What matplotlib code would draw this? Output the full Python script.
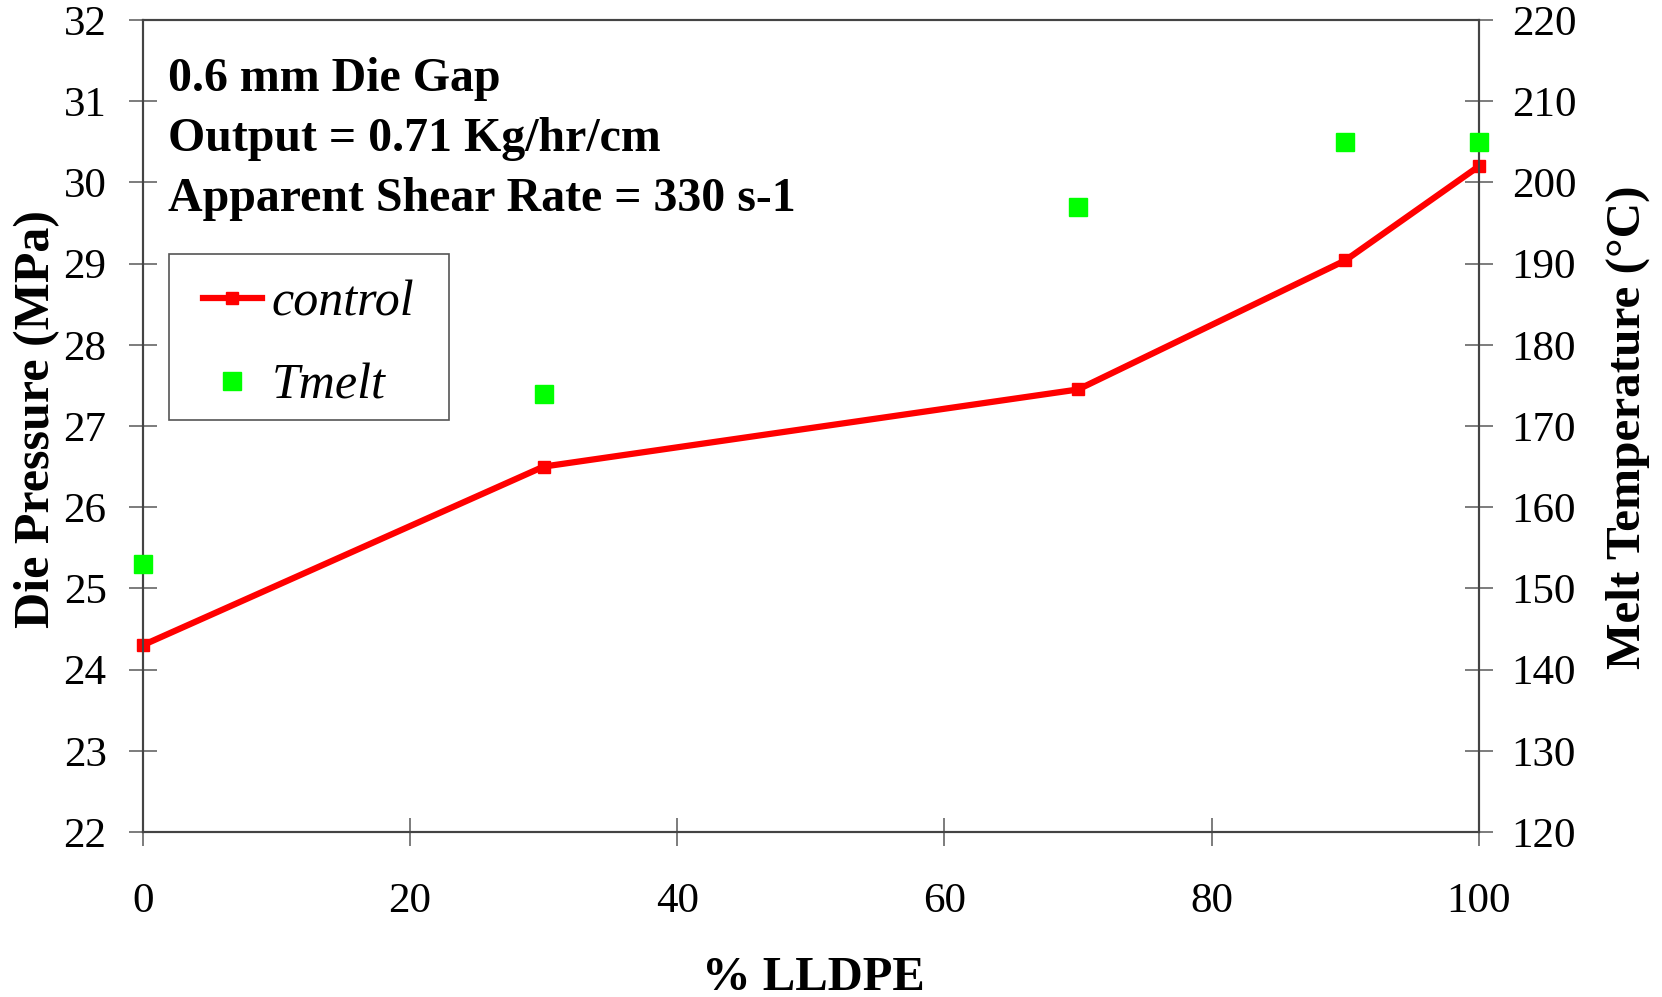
import matplotlib
matplotlib.use("Agg")
import matplotlib.pyplot as plt
from matplotlib.lines import Line2D
from matplotlib.patches import Rectangle

# data
lldpe = [0, 30, 70, 90, 100]
die_pressure = [24.3, 26.5, 27.45, 29.04, 30.2]   # MPa, "control"
t_melt = [153, 174, 197, 205, 205]                # deg C, "Tmelt"

x_ticks = [0, 20, 40, 60, 80, 100]
left_ticks = [22, 23, 24, 25, 26, 27, 28, 29, 30, 31, 32]
right_ticks = [120, 130, 140, 150, 160, 170, 180, 190, 200, 210, 220]

notes = ["0.6 mm Die Gap", "Output = 0.71 Kg/hr/cm", "Apparent Shear Rate = 330 s-1"]

plt.rcParams['font.family'] = ['Liberation Serif', 'DejaVu Serif']

W, H = 1662, 997
fig = plt.figure(figsize=(W / 100, H / 100), dpi=100)

def fx(px):
    return px / W

def fy(py):
    return 1 - py / H

left, right, top, bottom = 142.7, 1479, 20, 832
ax = fig.add_axes([fx(left), fy(bottom), fx(right - left), (bottom - top) / H])
ax2 = ax.twinx()

spine_col = '#444444'
tick_col = '#666666'

ax.plot(lldpe, die_pressure, color='#ff0000', lw=4.5, marker='s', ms=8.5,
        solid_joinstyle='miter', clip_on=False, zorder=3)
ax2.plot(lldpe, t_melt, linestyle='none', marker='s', ms=13.5, color='#00ff00',
         mec='#00ff00', clip_on=False, zorder=3)

ax.set_xlim(0, 100)
ax.set_ylim(22, 32)
ax2.set_ylim(120, 220)
ax.set_xticks(x_ticks)
ax.set_yticks(left_ticks)
ax2.set_yticks(right_ticks)

for a in (ax, ax2):
    for s in a.spines.values():
        s.set_color(spine_col)
        s.set_linewidth(1.5)

ax.tick_params(axis='x', direction='inout', length=20, width=1.2, color=tick_col,
               labelsize=31, pad=26)
ax.tick_params(axis='y', direction='inout', length=20, width=1.2, color=tick_col,
               labelsize=31, pad=16)
ax2.tick_params(axis='y', direction='inout', length=20, width=1.2, color=tick_col,
                labelsize=31, pad=13.5)

# axis titles
fig.text(fx(37), fy(419), "Die Pressure (MPa)", rotation=90, ha='center', va='center',
         fontsize=36, fontweight='bold')
fig.text(fx(1628), fy(427), "Melt Temperature (\u00b0C)", rotation=90, ha='center',
         va='center', fontsize=35.5, fontweight='bold')
fig.text(fx(813), fy(990), "% LLDPE", ha='center', va='baseline', fontsize=35,
         fontweight='bold')

# condition notes
for i, line in enumerate(notes):
    fig.text(fx(168), fy(90.7 + 60.2 * i), line, ha='left', va='baseline',
             fontsize=34.5, fontweight='bold')

# legend with a plain square frame
handles = [
    Line2D([], [], color='#ff0000', lw=4.5, marker='s', ms=8.5),
    Line2D([], [], linestyle='none', marker='s', ms=13.5, color='#00ff00'),
]
leg = fig.legend(handles, ['control', 'Tmelt'], loc='center',
                 bbox_to_anchor=(fx(308.5), fy(344.5)), frameon=False,
                 prop={'family': 'Liberation Serif', 'style': 'italic', 'size': 36},
                 handlelength=1.18, handletextpad=0.2, labelspacing=0.74,
                 borderpad=0)
fig.patches.append(Rectangle((fx(169), fy(420)), fx(449 - 169), (420 - 254) / H,
                             transform=fig.transFigure, fill=False,
                             edgecolor='#555555', lw=1.2))

fig.savefig("out.png", dpi=100)
